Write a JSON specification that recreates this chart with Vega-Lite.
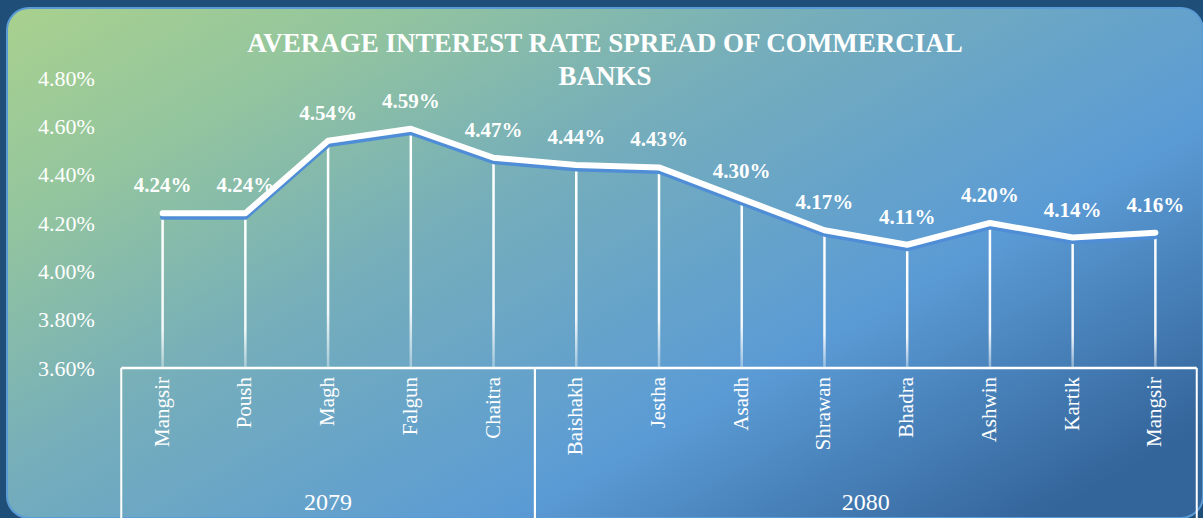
{
  "$schema": "https://vega.github.io/schema/vega-lite/v6.json",
  "width": 1196,
  "height": 510,
  "autosize": "none",
  "padding": {"left": 7, "top": 8, "right": 0, "bottom": 0},
  "background": "#1f4e79",
  "config": {"view": {"stroke": null}, "font": "Liberation Serif"},
  "title": {
    "text": ["AVERAGE INTEREST RATE SPREAD OF COMMERCIAL", "BANKS"],
    "orient": "top",
    "anchor": "middle",
    "frame": "group",
    "offset": 0,
    "baseline": "top",
    "dy": 84,
    "font": "Liberation Serif",
    "fontSize": 27,
    "fontWeight": "bold",
    "color": "#ffffff",
    "lineHeight": 33
  },
  "datasets": {
    "rates": [
      {"i": 0, "month": "Mangsir", "year": "2079", "rate": 0.0424},
      {"i": 1, "month": "Poush", "year": "2079", "rate": 0.0424},
      {"i": 2, "month": "Magh", "year": "2079", "rate": 0.0454},
      {"i": 3, "month": "Falgun", "year": "2079", "rate": 0.0459},
      {"i": 4, "month": "Chaitra", "year": "2079", "rate": 0.0447},
      {"i": 5, "month": "Baishakh", "year": "2080", "rate": 0.0444},
      {"i": 6, "month": "Jestha", "year": "2080", "rate": 0.0443},
      {"i": 7, "month": "Asadh", "year": "2080", "rate": 0.0430},
      {"i": 8, "month": "Shrawan", "year": "2080", "rate": 0.0417},
      {"i": 9, "month": "Bhadra", "year": "2080", "rate": 0.0411},
      {"i": 10, "month": "Ashwin", "year": "2080", "rate": 0.0420},
      {"i": 11, "month": "Kartik", "year": "2080", "rate": 0.0414},
      {"i": 12, "month": "Mangsir", "year": "2080", "rate": 0.0416}
    ],
    "groups": [
      {"year": "2079", "start": -0.5, "end": 4.5, "mid": 2},
      {"year": "2080", "start": 4.5, "end": 12.5, "mid": 8.5}
    ],
    "panel": [{"name": "panel"}]
  },
  "layer": [
    {
      "data": {"name": "panel"},
      "mark": {
        "type": "rect",
        "cornerRadius": 22,
        "stroke": "#5b9bd5",
        "strokeWidth": 2,
        "fill": {
          "gradient": "linear",
          "x1": 0, "y1": 0, "x2": 1.035, "y2": 0.777,
          "stops": [
            {"offset": 0, "color": "#a9d18e"},
            {"offset": 0.2, "color": "#93c59e"},
            {"offset": 0.42, "color": "#76aeba"},
            {"offset": 0.72, "color": "#5b9bd5"},
            {"offset": 1, "color": "#33649a"}
          ]
        }
      },
      "encoding": {
        "x": {"value": 0},
        "x2": {"value": "width"},
        "y": {"value": 0},
        "y2": {"value": "height"}
      }
    },
    {
      "data": {"name": "rates"},
      "mark": {
        "type": "bar",
        "size": 2.5,
        "fill": {
          "gradient": "linear",
          "x1": 0, "y1": 0, "x2": 0, "y2": 1,
          "stops": [
            {"offset": 0, "color": "#ffffff"},
            {"offset": 0.75, "color": "rgba(255,255,255,0.92)"},
            {"offset": 1, "color": "rgba(255,255,255,0.35)"}
          ]
        }
      },
      "encoding": {
        "x": {"field": "i", "type": "quantitative", "scale": {"domain": [-0.5, 12.5], "range": [109.25, 1194.75], "zero": false, "nice": false}, "axis": null},
        "y": {
          "field": "rate", "type": "quantitative",
          "scale": {"domain": [0.036, 0.048], "range": [360, 70], "zero": false, "nice": false},
          "axis": {
            "orient": "left", "offset": -109.25, "zindex": 1,
            "values": [0.036, 0.038, 0.04, 0.042, 0.044, 0.046, 0.048],
            "format": ".2%",
            "labelFont": "Liberation Serif", "labelFontSize": 22, "labelColor": "#ffffff",
            "labelPadding": 22, "labelFlush": false, "labelOverlap": false,
            "domain": false, "ticks": false, "grid": false, "title": null
          }
        },
        "y2": {"datum": 0.036}
      }
    },
    {
      "data": {"name": "rates"},
      "mark": {"type": "line", "stroke": "#4f8ed6", "strokeWidth": 5, "yOffset": 4, "strokeJoin": "round", "strokeCap": "round"},
      "encoding": {
        "x": {"field": "i", "type": "quantitative"},
        "y": {"field": "rate", "type": "quantitative"}
      }
    },
    {
      "data": {"name": "rates"},
      "mark": {"type": "line", "stroke": "#ffffff", "strokeWidth": 6, "strokeJoin": "round", "strokeCap": "round"},
      "encoding": {
        "x": {"field": "i", "type": "quantitative"},
        "y": {"field": "rate", "type": "quantitative"}
      }
    },
    {
      "data": {"name": "rates"},
      "mark": {"type": "text", "dy": -27, "font": "Liberation Serif", "fontSize": 21, "fontWeight": "bold", "color": "#ffffff"},
      "encoding": {
        "x": {"field": "i", "type": "quantitative"},
        "y": {"field": "rate", "type": "quantitative"},
        "text": {"field": "rate", "type": "quantitative", "format": ".2%"}
      }
    },
    {
      "data": {"name": "rates"},
      "mark": {"type": "text", "angle": 270, "align": "right", "baseline": "middle", "dx": -9, "font": "Liberation Serif", "fontSize": 21, "color": "#ffffff"},
      "encoding": {
        "x": {"field": "i", "type": "quantitative"},
        "y": {"datum": 0.036},
        "text": {"field": "month", "type": "nominal"}
      }
    },
    {
      "data": {"name": "groups"},
      "mark": {"type": "rule", "stroke": "#ffffff", "strokeWidth": 2.5},
      "encoding": {
        "x": {"field": "start", "type": "quantitative"},
        "x2": {"field": "end"},
        "y": {"datum": 0.036}
      }
    },
    {
      "data": {"name": "groups"},
      "mark": {"type": "rule", "stroke": "#ffffff", "strokeWidth": 2},
      "encoding": {
        "x": {"field": "start", "type": "quantitative"},
        "y": {"datum": 0.036},
        "y2": {"value": "height"}
      }
    },
    {
      "data": {"name": "groups"},
      "mark": {"type": "rule", "stroke": "#ffffff", "strokeWidth": 2},
      "encoding": {
        "x": {"field": "end", "type": "quantitative"},
        "y": {"datum": 0.036},
        "y2": {"value": "height"}
      }
    },
    {
      "data": {"name": "groups"},
      "mark": {"type": "text", "baseline": "alphabetic", "dy": -8, "font": "Liberation Serif", "fontSize": 24, "color": "#ffffff"},
      "encoding": {
        "x": {"field": "mid", "type": "quantitative"},
        "y": {"value": "height"},
        "text": {"field": "year", "type": "nominal"}
      }
    }
  ]
}
